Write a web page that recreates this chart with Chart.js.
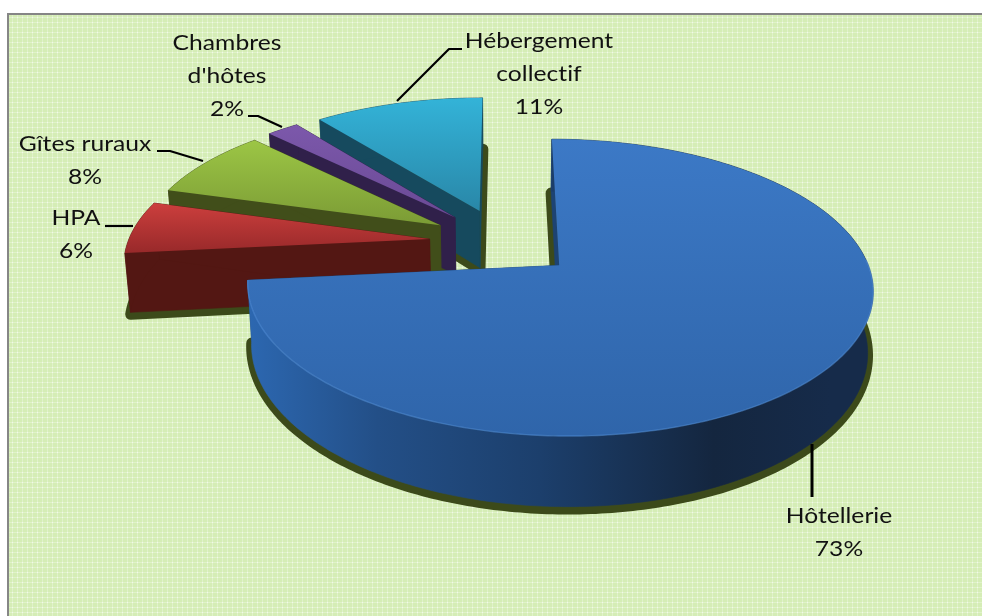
<!DOCTYPE html>
<html><head><meta charset="utf-8">
<style>html,body{margin:0;padding:0;background:#fff;overflow:hidden}canvas{display:block}</style>
<script src="https://cdn.jsdelivr.net/npm/chart.js@4"></script>
</head><body><canvas id="c" width="982" height="616"></canvas>
<script>
const categories = ['Hôtellerie', 'HPA', 'Gîtes ruraux', "Chambres d'hôtes", 'Hébergement collectif'];
const shares = [73.4, 6, 8, 2, 10.6];
const labelLines = [['Hôtellerie', '73%'], ['HPA', '6%'], ['Gîtes ruraux', '8%'], ['Chambres', "d'hôtes", '2%'], ['Hébergement', 'collectif', '11%']];

const topColors = [['#3c79c6', '#2f65aa'], ['#cc3f3d', '#98292a'], ['#9cc645', '#7b9b35'], ['#7c58ab', '#6a4a95'], ['#33b3d8', '#2987a8']];
const sideColors = ['#1d4373', '#531713', '#414e1a', '#30204a', '#164a5e'];
const SHADOW = '#3c4a1a';
const EXPLODE = 0.245, R = 309, K = 145, P = 0.15, CX = 503, AY = 265, H = 60, Y0 = 0.162, TAPER = 0.015;
const labelPos = [[839, 523], [76, 225], [85, 151], [227, 50], [539, 48]];
const leaders = [
  [[812, 444], [812, 497]],
  [[105, 226], [133, 226]],
  [[157, 151], [170, 151], [203, 161]],
  [[248, 116], [258, 116], [282, 127]],
  [[462, 49], [449, 49], [397, 101]]
];
const project = (x, y, z) => {
  const rel = y + Y0, s = 1 / (1 + P * rel);
  return [CX + x * R * s * (1 - TAPER * z / H), AY - rel * K * s + z * s];
};
function makePattern(ctx) {
  const t = document.createElement('canvas'); t.width = 5; t.height = 5;
  const g = t.getContext('2d');
  g.fillStyle = '#d5edb6'; g.fillRect(0, 0, 5, 5);
  g.fillStyle = '#e0f2ca'; g.fillRect(0, 2, 5, 1); g.fillRect(2, 0, 1, 5);
  g.fillStyle = '#f1f9e8'; g.fillRect(2, 2, 1, 1);
  return ctx.createPattern(t, 'repeat');
}
function tracePoly(ctx, pts) {
  ctx.beginPath();
  pts.forEach((p, i) => i ? ctx.lineTo(p[0], p[1]) : ctx.moveTo(p[0], p[1]));
  ctx.closePath();
}
const pie3d = {
  id: 'pie3d',
  beforeDraw(chart) {
    const ctx = chart.ctx;
    ctx.save();
    ctx.fillStyle = '#fff'; ctx.fillRect(0, 0, 982, 616);
    ctx.fillStyle = makePattern(ctx); ctx.fillRect(7, 14, 975, 602);
    ctx.fillStyle = '#868686'; ctx.fillRect(7, 13, 975, 2); ctx.fillRect(7, 13, 2, 603);
    ctx.restore();
  },
  beforeDatasetsDraw(chart) {
    const ctx = chart.ctx, arcs = chart.getDatasetMeta(0).data;
    const geo = arcs.map(el => {
      const a0 = el.startAngle, a1 = el.endAngle, mid = (a0 + a1) / 2;
      const off = el.options.offset / 100;
      const ax = Math.cos(mid) * off, ay = -Math.sin(mid) * off;
      const n = Math.max(4, Math.round((a1 - a0) / 0.015));
      const rim = [];
      for (let i = 0; i <= n; i++) {
        const t = a0 + (a1 - a0) * i / n;
        rim.push([ax + Math.cos(t), ay - Math.sin(t)]);
      }
      return { ax, ay, rim };
    });
    ctx.save();
    ctx.lineJoin = 'round';
    // ground shadow: the base outline of each slice, slightly grown
    geo.forEach(g => {
      tracePoly(ctx, [[g.ax, g.ay], ...g.rim].map(p => project(p[0], p[1], H + 2)));
      ctx.fillStyle = SHADOW; ctx.strokeStyle = SHADOW; ctx.lineWidth = 11;
      ctx.fill(); ctx.stroke();
    });
    // back-to-front painting
    [4, 3, 2, 1, 0].forEach(i => {
      const g = geo[i], rim = g.rim;
      const apexT = project(g.ax, g.ay, 0), apexB = project(g.ax, g.ay, H);
      ctx.fillStyle = sideColors[i]; ctx.strokeStyle = sideColors[i]; ctx.lineWidth = 0.6;
      [rim[0], rim[rim.length - 1]].forEach(p => {
        tracePoly(ctx, [apexT, project(p[0], p[1], 0), project(p[0], p[1], H), apexB]);
        ctx.fill(); ctx.stroke();
      });
      let wall = sideColors[i];
      if (i === 0) {
        wall = ctx.createLinearGradient(250, 0, 830, 0);
        wall.addColorStop(0, '#2c67b0'); wall.addColorStop(0.22, '#234f87');
        wall.addColorStop(0.5, '#1c3f6c'); wall.addColorStop(0.8, '#14263f'); wall.addColorStop(1, '#162b4a');
      }
      ctx.fillStyle = wall; ctx.strokeStyle = wall;
      tracePoly(ctx, [...rim.map(p => project(p[0], p[1], 0)), ...rim.slice().reverse().map(p => project(p[0], p[1], H))]);
      ctx.fill(); ctx.stroke();
      const top = [apexT, ...rim.map(p => project(p[0], p[1], 0))];
      const ys = top.map(p => p[1]);
      const grad = ctx.createLinearGradient(0, Math.min(...ys), 0, Math.max(...ys));
      grad.addColorStop(0, topColors[i][0]); grad.addColorStop(1, topColors[i][1]);
      tracePoly(ctx, top);
      ctx.fillStyle = grad; ctx.fill();
      if (i === 0) {
        ctx.beginPath();
        rim.filter(p => p[1] < g.ay + 0.05).forEach((p, k) => {
          const q = project(p[0], p[1], 0);
          k ? ctx.lineTo(q[0], q[1]) : ctx.moveTo(q[0], q[1]);
        });
        ctx.strokeStyle = 'rgba(80,140,215,0.55)'; ctx.lineWidth = 1.4; ctx.stroke();
      }
    });
    ctx.restore();
    return false;
  },
  afterDraw(chart) {
    const ctx = chart.ctx;
    ctx.save();
    ctx.strokeStyle = '#000'; ctx.lineJoin = 'round';
    leaders.forEach((l, n) => {
      ctx.lineWidth = n === 0 ? 3 : 2.2;
      ctx.beginPath();
      l.forEach((p, i) => i ? ctx.lineTo(p[0], p[1]) : ctx.moveTo(p[0], p[1]));
      ctx.stroke();
    });
    ctx.fillStyle = '#111'; ctx.font = '22px Lato'; ctx.textAlign = 'center'; ctx.textBaseline = 'alphabetic';
    ctx.letterSpacing = '0.01px';
    labelLines.forEach((lines, i) => lines.forEach((t, j) => {
      ctx.save();
      ctx.translate(labelPos[i][0], labelPos[i][1] + j * 33);
      ctx.scale(1.12, 1);
      ctx.fillText(t, 0, 0);
      ctx.restore();
    }));
    ctx.restore();
  }
};
new Chart(document.getElementById('c').getContext('2d'), {
  type: 'pie',
  data: { labels: categories, datasets: [{ data: shares, offset: EXPLODE * 100, backgroundColor: topColors.map(c => c[0]), borderWidth: 0 }] },
  options: {
    responsive: false, animation: false, rotation: 0,
    events: [],
    plugins: { legend: { display: false }, tooltip: { enabled: false } }
  },
  plugins: [pie3d]
});
</script></body></html>
